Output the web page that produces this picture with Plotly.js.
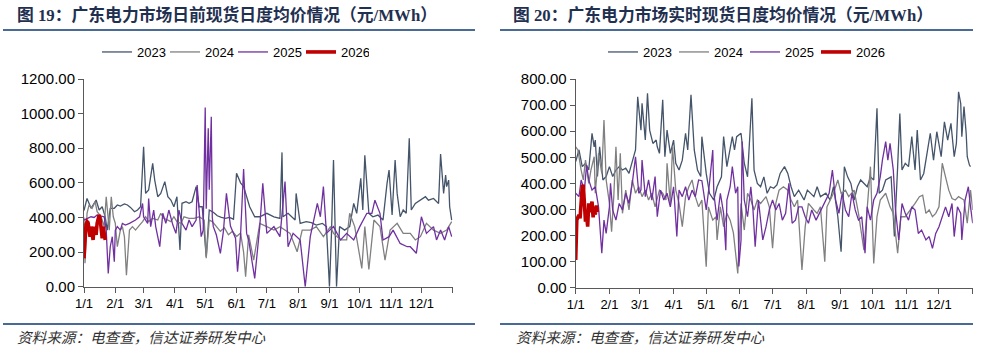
<!DOCTYPE html>
<html>
<head>
<meta charset="utf-8">
<script src="https://cdn.plot.ly/plotly-3.0.1.min.js"></script>
<style>html,body{margin:0;padding:0;background:#fff;}#chart{width:988px;height:352px;}</style>
</head>
<body>
<div id="chart"></div>
<script>
// ---------- DATA ----------
const seriesNames = ['2023', '2024', '2025', '2026'];
const monthTicks = [0, 31, 59, 90, 120, 151, 181, 212, 243, 273, 304, 334, 365];
const monthLabels = ['1/1', '2/1', '3/1', '4/1', '5/1', '6/1', '7/1', '8/1', '9/1', '10/1', '11/1', '12/1', ''];
const leftTitle = '图 19：广东电力市场日前现货日度均价情况（元/MWh）';
const rightTitle = '图 20：广东电力市场实时现货日度均价情况（元/MWh）';
const sourceText = '资料来源：电查查，信达证券研发中心';

// Day-ahead (left) — day index of year, price
const da2023Day = [0,3,7,12,15,18,21,23,26,30,
  33,36,40,43,46,50,53,56,59,61,
  64,68,70,73,76,80,83,86,89,92,
  95,97,101,104,107,111,114,117,121,124,
  128,132,136,140,144,148,151,155,158,161,
  164,169,174,181,188,194,196,197,202,209,
  210,214,220,225,230,236,240,243,245,247,
  249,250,253,258,263,267,270,274,276,278,
  282,286,291,296,300,302,305,308,310,313,
  316,319,322,324,328,333,338,341,346,351,
  353,356,358,359,361,362,364];
const da2023Val = [440,510,453,501,443,462,404,327,453,453,
  472,466,478,472,458,433,443,462,809,539,
  559,713,616,520,539,607,520,501,462,520,
  212,482,491,482,491,578,462,462,173,443,
  430,410,400,395,400,390,655,600,578,520,
  462,404,404,424,404,395,776,404,424,385,
  539,366,376,370,356,366,347,0,308,732,
  308,0,347,327,347,481,424,626,443,759,
  424,404,414,385,597,674,414,732,539,404,
  443,424,857,443,481,500,520,500,510,481,
  767,539,645,578,616,462,385];

const da2024Day = [0,1,3,5,8,11,13,17,20,22,
  25,27,29,31,33,36,38,40,42,45,
  48,51,55,58,61,64,68,73,76,79,
  83,86,89,92,96,99,104,109,114,119,
  121,124,127,131,135,139,143,147,151,155,
  158,160,163,168,174,181,188,194,204,211,
  216,224,230,237,244,247,254,260,263,268,
  275,278,282,287,293,298,303,310,316,323,
  328,333,339,346,353,359,364];
const da2024Val = [400,135,424,472,453,491,433,404,347,520,
  327,520,404,366,231,327,347,289,67,327,
  347,327,356,376,404,376,395,385,424,395,
  385,376,404,376,366,404,395,395,404,385,
  164,385,376,350,320,340,300,320,290,310,
  200,58,300,154,366,347,327,347,308,202,
  327,327,347,289,347,308,270,270,424,347,
  106,347,100,385,347,154,327,366,308,308,
  270,289,366,327,308,327,376];

const da2025Day = [0,3,7,10,13,17,20,22,24,26,
  28,30,31,33,36,38,41,45,48,51,
  55,58,59,63,64,66,69,71,73,75,
  78,81,84,88,91,94,97,101,104,107,
  111,112,116,118,120,121,123,124,126,127,
  128,131,135,138,141,145,148,150,152,155,
  158,161,163,169,174,177,181,188,194,199,
  202,207,214,219,224,231,234,237,240,247,
  254,260,267,273,280,285,288,293,296,302,
  306,313,320,323,329,334,339,346,349,353,
  357,361,364];
const da2025Val = [385,395,404,400,414,408,404,327,77,231,
  289,144,327,347,327,366,356,366,376,385,
  404,481,404,366,510,347,443,347,289,231,
  424,366,443,356,308,443,366,327,385,347,
  385,587,289,327,1036,450,915,560,982,400,
  347,300,193,320,539,350,308,280,87,300,
  680,308,270,48,347,597,308,347,289,607,
  231,308,270,0,289,481,404,578,308,347,
  270,308,270,347,424,424,500,424,270,289,
  327,250,231,231,193,404,308,347,270,327,
  270,347,289];

const da2026Day = [0,1,2,3,4,5,6,7,8,9,10,11,12,13,14,15,16,17,18,19,20,21];
const da2026Val = [164,328,360,376,370,330,289,347,290,270,347,320,300,367,404,414,390,330,280,347,289,270];

// Real-time (right)
const rt2023Day = [0,3,6,9,12,15,17,18,20,22,
  25,28,31,34,37,40,43,46,49,52,
  55,57,60,61,64,66,68,71,74,75,
  77,80,82,84,87,90,92,95,98,101,
  103,106,109,112,115,116,120,123,127,130,
  134,136,139,144,146,148,152,155,158,162,
  164,167,170,173,176,179,182,185,188,192,
  195,198,201,205,210,213,219,222,225,230,
  234,237,241,244,247,250,253,256,259,262,
  265,268,271,274,277,279,282,285,290,293,
  296,298,300,303,306,309,312,314,317,320,
  323,326,329,332,336,339,342,345,348,350,
  352,354,355,357,359,360,362,363];
const rt2023Val = [483,528,464,477,451,592,540,566,426,540,
  413,426,464,426,451,464,451,458,438,489,
  528,732,604,707,566,745,604,553,566,540,
  515,720,502,604,515,566,477,451,489,592,
  528,739,528,451,426,579,438,362,336,387,
  425,579,464,579,528,579,592,477,425,726,
  451,400,387,425,362,387,381,394,438,464,
  438,387,349,374,336,374,349,387,349,362,
  336,387,272,138,464,425,400,336,387,413,
  400,387,425,413,688,362,374,413,425,196,
  464,668,451,477,464,579,451,604,413,438,
  515,592,489,598,502,636,566,630,502,553,
  751,706,579,694,592,502,470,464];

const rt2024Day = [0,2,5,7,9,12,14,17,18,21,
  24,26,28,31,33,35,37,39,41,43,
  46,49,52,55,58,61,64,67,70,73,
  77,80,83,84,87,89,92,95,98,101,
  104,107,110,113,116,120,122,126,129,130,
  133,136,139,142,145,149,152,155,158,161,
  164,167,170,175,178,181,184,187,191,195,
  198,201,204,208,211,214,219,222,225,229,
  231,234,237,241,244,248,251,256,260,265,
  268,271,274,277,280,285,289,292,296,299,
  303,308,312,316,319,322,325,328,331,334,
  337,340,343,346,349,352,357,360,363,365];
const rt2024Val = [540,528,451,413,489,400,451,502,362,515,
  438,643,413,323,215,349,540,336,515,285,
  374,298,413,362,387,349,374,336,362,310,
  374,362,336,477,323,540,374,323,234,349,
  387,413,349,310,336,80,310,259,272,183,
  310,234,285,259,210,55,323,221,362,336,
  298,336,323,349,310,151,323,374,387,374,
  336,310,336,68,234,323,298,285,310,100,
  310,336,362,413,362,374,349,374,285,144,
  298,464,93,272,336,362,310,285,132,272,
  272,298,323,349,355,285,298,272,285,310,
  477,425,374,342,336,349,336,247,374,298];

const rt2025Day = [0,3,5,8,10,12,15,18,21,24,
  26,28,31,32,34,37,40,43,46,49,
  52,55,58,60,61,64,67,70,73,75,
  78,81,84,87,90,93,95,98,101,104,
  107,110,113,116,120,123,126,127,130,133,
  136,138,139,142,144,147,149,150,152,153,
  155,158,161,163,165,168,172,175,178,181,
  184,187,190,193,196,199,202,205,208,211,
  214,217,221,224,227,230,233,236,239,242,
  245,248,251,254,257,260,263,266,268,271,
  274,277,280,282,285,287,289,292,294,297,
  300,303,306,309,312,315,318,322,325,328,
  331,334,337,340,343,346,348,351,354,355,
  358,361,363,365];
const rt2025Val = [362,349,413,374,470,413,374,387,310,132,
  259,208,310,400,298,259,323,298,362,323,
  400,502,362,374,489,349,413,336,426,272,
  374,336,362,310,387,196,374,349,387,336,
  374,349,413,410,298,400,528,362,259,362,
  285,144,336,387,464,362,387,81,183,560,
  336,272,387,298,157,336,183,234,298,336,
  298,323,259,285,400,247,259,310,310,272,
  247,298,259,285,310,336,362,451,336,285,
  362,298,272,362,298,259,272,132,310,259,
  336,362,425,489,560,489,553,451,298,183,
  323,285,259,310,298,208,221,183,196,151,
  208,234,272,310,272,323,196,310,285,183,
  336,387,310,247];

const rt2026Day = [0,1,2,3,4,5,6,7,8,9,10,11,12,13,14,15,16,17,18,19,20];
const rt2026Val = [106,259,270,279,266,330,387,394,298,253,280,234,323,290,310,330,270,311,280,315,290];

// ---------- STYLE ----------
const colors = ['#44546a', '#808080', '#7030a0', '#c00000'];
const widths = [1.3, 1.3, 1.3, 3.6];
const W = 988, H = 352;
const px = x => x / W;
const py = y => 1 - y / H;

const leftDays = [da2023Day, da2024Day, da2025Day, da2026Day];
const leftVals = [da2023Val, da2024Val, da2025Val, da2026Val];
const rightDays = [rt2023Day, rt2024Day, rt2025Day, rt2026Day];
const rightVals = [rt2023Val, rt2024Val, rt2025Val, rt2026Val];

const traces = [];
seriesNames.forEach((n, i) => {
  traces.push({x: leftDays[i], y: leftVals[i], name: n, type: 'scatter', mode: 'lines',
    line: {color: colors[i], width: widths[i]}, xaxis: 'x', yaxis: 'y', legend: 'legend', hoverinfo: 'skip'});
});
seriesNames.forEach((n, i) => {
  traces.push({x: rightDays[i], y: rightVals[i], name: n, type: 'scatter', mode: 'lines',
    line: {color: colors[i], width: widths[i]}, xaxis: 'x2', yaxis: 'y2', legend: 'legend2', hoverinfo: 'skip'});
});

const axisCommon = {
  showgrid: false, zeroline: false, showline: true, linecolor: '#595959', linewidth: 1,
  ticks: 'outside', ticklen: 5, tickcolor: '#595959', tickwidth: 1, fixedrange: true
};
const xCommon = Object.assign({}, axisCommon, {
  range: [0, 365], tickmode: 'array', tickvals: monthTicks, ticktext: monthLabels,
  tickfont: {family: 'Liberation Sans, Arial, sans-serif', size: 13, color: '#000'}
});
const yCommon = Object.assign({}, axisCommon, {
  tickformat: '.2f', tickfont: {family: 'Liberation Sans, Arial, sans-serif', size: 15, color: '#000'}
});

const titleFont = {family: 'Liberation Serif, "Noto Sans CJK SC", serif', size: 16.8, color: '#1f3050', weight: 'bold'};
const srcFont = {family: '"Noto Sans CJK SC", sans-serif', size: 14.6, color: '#333', style: 'italic'};
const ruleColor = '#4a6a96';

const layout = {
  width: W, height: H,
  margin: {l: 0, r: 0, t: 0, b: 0},
  paper_bgcolor: '#fff', plot_bgcolor: '#fff',
  showlegend: true,
  xaxis: Object.assign({}, xCommon, {domain: [px(84), px(452.7)], anchor: 'y'}),
  yaxis: Object.assign({}, yCommon, {domain: [py(286.7), py(79)], range: [0, 1200], dtick: 200, anchor: 'x'}),
  xaxis2: Object.assign({}, xCommon, {domain: [px(575.7), px(972.7)], anchor: 'y2'}),
  yaxis2: Object.assign({}, yCommon, {domain: [py(287.7), py(79)], range: [0, 800], dtick: 100, anchor: 'x2'}),
  legend: {orientation: 'h', x: px(97), xanchor: 'left', y: py(52), yanchor: 'middle',
    font: {family: 'Liberation Sans, Arial, sans-serif', size: 13, color: '#000'},
    bgcolor: 'rgba(0,0,0,0)', entrywidth: 23, entrywidthmode: 'pixels', itemwidth: 30},
  legend2: {orientation: 'h', x: px(603), xanchor: 'left', y: py(52), yanchor: 'middle',
    font: {family: 'Liberation Sans, Arial, sans-serif', size: 13, color: '#000'},
    bgcolor: 'rgba(0,0,0,0)', entrywidth: 26, entrywidthmode: 'pixels', itemwidth: 30},
  annotations: [
    {text: leftTitle, xref: 'paper', yref: 'paper', x: px(15), y: py(15), xanchor: 'left', yanchor: 'middle', showarrow: false, font: titleFont},
    {text: rightTitle, xref: 'paper', yref: 'paper', x: px(511), y: py(15), xanchor: 'left', yanchor: 'middle', showarrow: false, font: titleFont},
    {text: sourceText, xref: 'paper', yref: 'paper', x: px(15), y: py(336), xanchor: 'left', yanchor: 'middle', showarrow: false, font: srcFont},
    {text: sourceText, xref: 'paper', yref: 'paper', x: px(514), y: py(336), xanchor: 'left', yanchor: 'middle', showarrow: false, font: srcFont}
  ],
  shapes: [
    {type: 'line', xref: 'paper', yref: 'paper', x0: px(3), x1: px(475), y0: py(30), y1: py(30), line: {color: ruleColor, width: 2}},
    {type: 'line', xref: 'paper', yref: 'paper', x0: px(500), x1: px(973), y0: py(30), y1: py(30), line: {color: ruleColor, width: 2}},
    {type: 'line', xref: 'paper', yref: 'paper', x0: px(3), x1: px(475), y0: py(324), y1: py(324), line: {color: ruleColor, width: 2}},
    {type: 'line', xref: 'paper', yref: 'paper', x0: px(500), x1: px(973), y0: py(324), y1: py(324), line: {color: ruleColor, width: 2}}
  ]
};

Plotly.newPlot('chart', traces, layout, {staticPlot: true, displayModeBar: false});
</script>
</body>
</html>
